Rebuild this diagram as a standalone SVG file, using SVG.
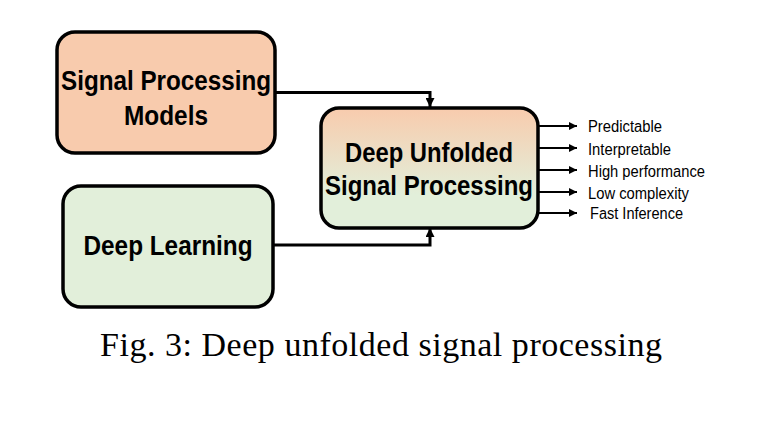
<svg xmlns="http://www.w3.org/2000/svg" width="759" height="422" viewBox="0 0 759 422">
<defs>
<linearGradient id="g" x1="0" y1="0" x2="0" y2="1">
<stop offset="0" stop-color="#f8cbad"/>
<stop offset="0.72" stop-color="#e2efda"/>
</linearGradient>
<marker id="ah" viewBox="0 0 10 10" refX="10" refY="5" markerWidth="9" markerHeight="9" markerUnits="userSpaceOnUse" orient="auto">
<path d="M0,0 L10,5 L0,10 z" fill="#000"/>
</marker>
<marker id="ahs" viewBox="0 0 10 10" refX="10" refY="5" markerWidth="9" markerHeight="8" markerUnits="userSpaceOnUse" orient="auto">
<path d="M0,0 L10,5 L0,10 z" fill="#000"/>
</marker>
</defs>
<style>
.box{stroke:#000;stroke-width:3.5}
.bt{font-family:"Liberation Sans",Arial,sans-serif;font-weight:bold;font-size:28px;fill:#000;text-anchor:middle}
.lt{font-family:"Liberation Sans",Arial,sans-serif;font-size:16px;fill:#000}
.c{fill:none;stroke:#000;stroke-width:3}
.o{fill:none;stroke:#000;stroke-width:2}
.cap{font-family:"Liberation Serif","Times New Roman",serif;font-size:34px;fill:#000;text-anchor:middle}
</style>
<rect width="759" height="422" fill="#fff"/>
<g id="connectors">
<path class="c" d="M275,92.5 H430 V107" marker-end="url(#ah)"/>
<path class="c" d="M273,245 H430 V228" marker-end="url(#ah)"/>
<path class="o" d="M538,126 H577" marker-end="url(#ahs)"/>
<path class="o" d="M538,148 H577" marker-end="url(#ahs)"/>
<path class="o" d="M538,170 H577" marker-end="url(#ahs)"/>
<path class="o" d="M538,192 H577" marker-end="url(#ahs)"/>
<path class="o" d="M538,213 H577" marker-end="url(#ahs)"/>
</g>
<g id="spm">
<rect class="box" x="57" y="32" width="218" height="121" rx="18" fill="#f8cbad"/>
<text class="bt" x="166" y="90" textLength="210" lengthAdjust="spacingAndGlyphs">Signal Processing</text>
<text class="bt" x="166" y="125" textLength="84" lengthAdjust="spacingAndGlyphs">Models</text>
</g>
<g id="dl">
<rect class="box" x="63" y="186" width="210" height="121" rx="18" fill="#e2efda"/>
<text class="bt" x="168" y="255" textLength="169" lengthAdjust="spacingAndGlyphs">Deep Learning</text>
</g>
<g id="dusp">
<rect class="box" x="321" y="108" width="217" height="120" rx="18" fill="url(#g)"/>
<text class="bt" x="429" y="162" textLength="168" lengthAdjust="spacingAndGlyphs">Deep Unfolded</text>
<text class="bt" x="429" y="195" textLength="208" lengthAdjust="spacingAndGlyphs">Signal Processing</text>
</g>
<g id="labels">
<text class="lt" x="588" y="132" textLength="74" lengthAdjust="spacingAndGlyphs">Predictable</text>
<text class="lt" x="588" y="155" textLength="83" lengthAdjust="spacingAndGlyphs">Interpretable</text>
<text class="lt" x="588" y="177" textLength="117" lengthAdjust="spacingAndGlyphs">High performance</text>
<text class="lt" x="588" y="199" textLength="101" lengthAdjust="spacingAndGlyphs">Low complexity</text>
<text class="lt" x="590" y="219" textLength="93" lengthAdjust="spacingAndGlyphs">Fast Inference</text>
</g>
<text class="cap" x="381" y="356" textLength="562">Fig. 3: Deep unfolded signal processing</text>
</svg>
